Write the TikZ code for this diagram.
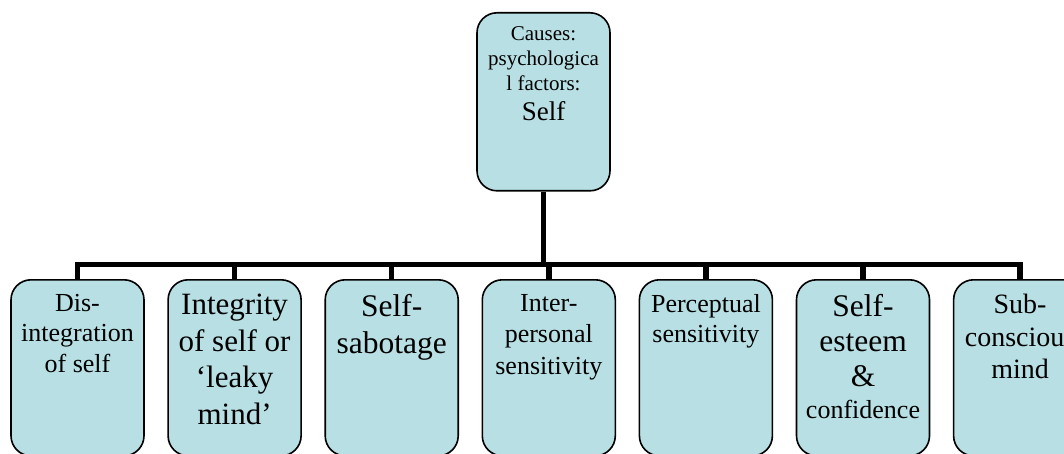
\documentclass[tikz,border=0pt]{standalone}
\usepackage{fontspec}
\setmainfont{Liberation Serif}
\usetikzlibrary{positioning}
\definecolor{boxfill}{RGB}{184,223,227}
\newcommand{\boxfont}[2]{\fontsize{#1}{#2}\selectfont}

\begin{document}
\begin{tikzpicture} [
    x=1pt, y=-1pt,
    node distance=22.5pt,
    root/.style={rectangle, rounded corners=20pt, draw=black, line width=1.6pt, fill=boxfill, minimum width=133pt, minimum height=178pt, inner sep=0pt},
    leaf/.style={root, minimum height=176pt},
    txt/.style={inner sep=0pt, align=center},
    branch/.style={draw=black, line width=5.5pt}
    ]
    \useasboundingbox (0,0) rectangle (1064,454);
    %Nodes
    \node[root, anchor=north]  (self)   at (543.5,12)                       {};
    \node[leaf, anchor=north]  (b1)     at (77.5,279)                       {};
    \node[leaf]                (b2)     [right=of b1]                       {};
    \node[leaf]                (b3)     [right=of b2]                       {};
    \node[leaf]                (b4)     [right=of b3]                       {};
    \node[leaf]                (b5)     [right=of b4]                       {};
    \node[leaf]                (b6)     [right=of b5]                       {};
    \node[leaf]                (b7)     [right=of b6]                       {};
    %Texts
    \node[txt, font=\boxfont{21}{25}] (tself) [below=14pt of self.north] {Causes:\\psychologica\\l factors:\\[5pt]{\boxfont{27}{31}Self}};
    \node[txt, font=\boxfont{26}{30.5}] (t1) [below=15pt of b1.north] {Dis-\\integration\\of self};
    \node[txt, font=\boxfont{31}{36.5}] (t2) [below=15pt of b2.north] {Integrity\\of self or\\‘leaky\\mind’};
    \node[txt, font=\boxfont{31.5}{37}] (t3) [below=15pt of b3.north] {Self-\\sabotage};
    \node[txt, font=\boxfont{26}{31.5}] (t4) [below=15pt of b4.north] {Inter-\\personal\\sensitivity};
    \node[txt, font=\boxfont{26}{30}]   (t5) [below=15pt of b5.north] {Perceptual\\sensitivity};
    \node[txt, font=\boxfont{31.5}{35}] (t6) [below=15pt of b6.north] {Self-\\esteem\\\&\\[-3pt]{\boxfont{26}{30}confidence}};
    \node[txt, font=\boxfont{28}{32.5}] (t7) [below=15pt of b7.north] {Sub-\\conscious\\mind};
    %Lines
    \coordinate[below=73pt of self.south] (hub);
    \draw[branch] (self.south) -- (hub);
    \draw[branch] (b1.north) -- (b1.north |- hub) -- (b7.north |- hub) -- (b7.north);
    \foreach \i in {2,...,6}
        \draw[branch] (b\i.north) -- (b\i.north |- hub);
\end{tikzpicture}
\end{document}
